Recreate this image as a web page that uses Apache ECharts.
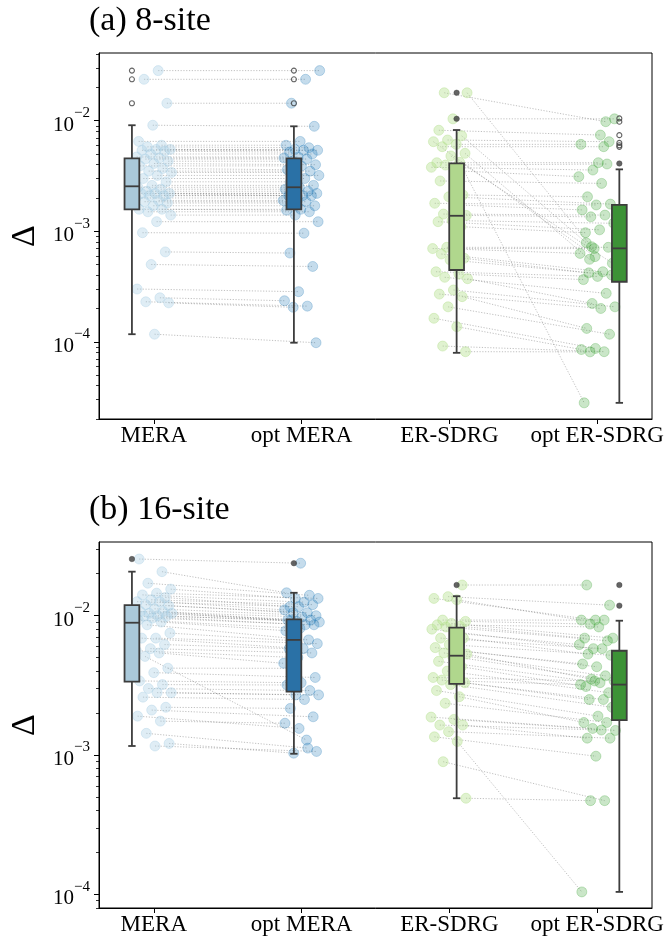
<!DOCTYPE html>
<html><head><meta charset="utf-8">
<script src="https://cdn.jsdelivr.net/npm/echarts@6.0.0/dist/echarts.min.js"></script>
<style>html,body{margin:0;padding:0;background:#fff}#c{width:668px;height:936px}</style>
</head><body><div id="c"></div>
<script>
// ---------- data ----------
const categories = ['MERA', 'opt MERA', 'ER-SDRG', 'opt ER-SDRG'];
const panelTitles = ['(a) 8-site', '(b) 16-site'];
const majorTicks = [1e-4, 1e-3, 1e-2];

// Panel (a) 8-site: paired values (index i of MERA pairs with index i of opt MERA)
const meraA = [0.0284, 0.0237, 0.0144, 0.0091, 0.0065, 0.0060, 0.0058, 0.0055, 0.0055, 0.0054, 0.0053, 0.0050, 0.0047, 0.0046, 0.0045, 0.0043, 0.0041, 0.0039, 0.0037, 0.0035, 0.0034, 0.0032, 0.0030, 0.0028, 0.0026, 0.0025, 0.0024, 0.0023, 0.0022, 0.0022, 0.0022, 0.0021, 0.0021, 0.0020, 0.0019, 0.00185, 0.0018, 0.0017, 0.00158, 0.00158, 0.0015, 0.0014, 0.00122, 0.00097, 0.00065, 0.0005, 0.0003, 0.00025, 0.00023, 0.000225, 0.000117];
const optMeraA = [0.0284, 0.0237, 0.0144, 0.0089, 0.0065, 0.0060, 0.0057, 0.0055, 0.0054, 0.0054, 0.0052, 0.0050, 0.0047, 0.0046, 0.0045, 0.0043, 0.0040, 0.0039, 0.0036, 0.0035, 0.0034, 0.0032, 0.0030, 0.0028, 0.0026, 0.0025, 0.0024, 0.0023, 0.0022, 0.0022, 0.0021, 0.0021, 0.0021, 0.0020, 0.0019, 0.00185, 0.0018, 0.0017, 0.00158, 0.00155, 0.0015, 0.0014, 0.00122, 0.00096, 0.000635, 0.00048, 0.000284, 0.000235, 0.00021, 0.000205, 0.000098];
const erA = [0.0179, 0.0179, 0.0104, 0.0082, 0.0073, 0.00669, 0.00646, 0.00611, 0.00582, 0.00507, 0.0048, 0.00417, 0.0042, 0.00397, 0.00379, 0.00353, 0.00285, 0.00213, 0.00205, 0.00179, 0.00173, 0.00143, 0.00139, 0.00125, 0.00122, 0.0011, 0.000715, 0.000697, 0.00069, 0.000622, 0.000569, 0.00055, 0.00043, 0.00041, 0.000383, 0.000372, 0.000294, 0.00027, 0.000256, 0.000207, 0.000163, 0.000137, 0.0000914, 0.0000813];
const optErA = [0.0098, 0.000724, 0.0104, 0.00742, 0.000787, 0.00646, 0.000589, 0.00611, 0.00582, 0.000557, 0.000513, 0.00417, 0.000028, 0.00406, 0.00358, 0.00312, 0.00271, 0.00205, 0.00176, 0.00173, 0.00156, 0.0014, 0.00135, 0.00118, 0.00103, 0.00097, 0.000715, 0.000697, 0.00063, 0.00043, 0.00042, 0.000402, 0.00039, 0.000365, 0.000274, 0.000222, 0.000207, 0.0002, 0.000132, 0.000117, 0.000087, 0.000085, 0.0000813, 0.000081];

// Panel (b) 16-site
const meraB = [0.0255, 0.0207, 0.0171, 0.0155, 0.0145, 0.0141, 0.0135, 0.0130, 0.0126, 0.0126, 0.0120, 0.0118, 0.0112, 0.0107, 0.0107, 0.0104, 0.0104, 0.0100, 0.0099, 0.0099, 0.0096, 0.0093, 0.0090, 0.0086, 0.0075, 0.0069, 0.0069, 0.0062, 0.0058, 0.0056, 0.0054, 0.0051, 0.0042, 0.0039, 0.0034, 0.0032, 0.0030, 0.0028, 0.0028, 0.0026, 0.0022, 0.0021, 0.0019, 0.00175, 0.00143, 0.00121, 0.00116];
const optMeraB = [0.0238, 0.0146, 0.0140, 0.0133, 0.0133, 0.0125, 0.0116, 0.0120, 0.0116, 0.0110, 0.0105, 0.0105, 0.0100, 0.0098, 0.0093, 0.0093, 0.0091, 0.0090, 0.0086, 0.0093, 0.0086, 0.0081, 0.0078, 0.0067, 0.0066, 0.0063, 0.0058, 0.0058, 0.0054, 0.0050, 0.00455, 0.00128, 0.00419, 0.0036, 0.0033, 0.00318, 0.0029, 0.0027, 0.0027, 0.0025, 0.00216, 0.00188, 0.00155, 0.00169, 0.00112, 0.00103, 0.00106];
const erB = [0.0166, 0.0137, 0.0133, 0.0130, 0.0093, 0.0091, 0.0088, 0.0086, 0.0084, 0.0083, 0.0080, 0.0075, 0.0069, 0.0069, 0.0062, 0.0059, 0.0056, 0.0054, 0.0053, 0.0051, 0.0047, 0.0043, 0.0040, 0.0036, 0.0034, 0.00345, 0.0033, 0.0032, 0.0029, 0.00262, 0.00235, 0.00187, 0.0018, 0.00164, 0.00164, 0.00147, 0.00135, 0.00125, 0.000895, 0.000489];
const optErB = [0.0166, 0.0119, 0.0093, 0.0093, 0.0093, 0.0087, 0.0069, 0.0083, 0.0069, 0.0066, 0.0058, 0.0062, 0.0058, 0.0053, 0.0052, 0.0043, 0.0045, 0.0037, 0.0035, 0.0034, 0.0033, 0.0031, 0.0028, 0.0034, 0.0032, 0.0025, 0.0025, 0.0022, 0.0019, 0.00171, 0.00171, 0.00155, 0.0015, 0.00151, 0.00132, 0.00132, 0.00098, 0.000104, 0.00047, 0.00047];

// Box statistics: [lower whisker, Q1, median, Q3, upper whisker]
const boxStatsA = [
  [0.000117, 0.00158, 0.00255, 0.00457, 0.0091],
  [0.000098, 0.00158, 0.0025, 0.00457, 0.0089],
  [0.0000794, 0.000446, 0.00138, 0.00411, 0.00824],
  [0.000028, 0.000349, 0.0007, 0.00173, 0.00363]
];
const boxStatsB = [
  [0.00116, 0.00336, 0.0089, 0.0119, 0.0207],
  [0.00102, 0.00285, 0.0067, 0.0094, 0.0146],
  [0.000489, 0.00324, 0.00516, 0.0082, 0.0138],
  [0.000104, 0.00178, 0.0032, 0.0056, 0.0092]
];
// Fliers per box (open markers) and overlapping fliers (appear filled)
const fliersA = [[0.0284, 0.0237, 0.0144], [0.0284, 0.0237, 0.0144], [], [0.0105, 0.0098, 0.0074, 0.0063, 0.0060, 0.0058]];
const solidFliersA = [[], [], [0.0179, 0.0104], [0.0041]];
const fliersB = [[], [], [], []];
const solidFliersB = [[0.0255], [0.0238], [0.0166], [0.0166, 0.0118]];

// ---------- layout / style ----------
const FONT = 'Liberation Serif';
const boxPos = [-0.148, 0.948, 2.049, 3.150];
const boxWidth = 0.1;
const xMin = -0.3708, xMax = 3.371;
const yRange = [[2.0e-5, 0.0410], [7.97e-5, 0.0338]];
const pointColors = ['rgba(166,206,227,0.45)', 'rgba(31,120,180,0.32)', 'rgba(178,223,138,0.5)', 'rgba(51,160,44,0.32)'];
const boxColors = ['#aac9da', '#2a71a6', '#b0d78d', '#3c9236'];
const edge = '#3d3d3d';
const grids = [
  {left: 97, top: 53, width: 555, height: 366},
  {left: 97, top: 542, width: 555, height: 366}
];

function jit(i, k) {
  const t = ((i + 1) * 0.6180339887 + k * 0.3713) % 1;
  return (t - 0.5) * 0.25;
}
function minorTicks(lo, hi) {
  const out = [];
  for (let e = -6; e <= 0; e++) {
    for (let m = 2; m <= 9; m++) {
      const v = m * Math.pow(10, e);
      if (v >= lo && v <= hi) out.push(v);
    }
  }
  return out;
}

const panels = [
  {groups: [meraA, optMeraA, erA, optErA], box: boxStatsA, fl: fliersA, sfl: solidFliersA},
  {groups: [meraB, optMeraB, erB, optErB], box: boxStatsB, fl: fliersB, sfl: solidFliersB}
];

const option = {
  animation: false,
  backgroundColor: '#fff',
  title: panelTitles.map((t, p) => ({
    text: t, left: 89, top: p === 0 ? 4 : 493, padding: 0,
    textStyle: {fontFamily: FONT, fontSize: 34, fontWeight: 'normal', color: '#000'}
  })),
  grid: grids.map(g => Object.assign({show: true, borderColor: '#000', borderWidth: 1, backgroundColor: '#fff'}, g)),
  xAxis: [], yAxis: [], series: []
};

panels.forEach((P, p) => {
  option.xAxis.push({
    type: 'value', gridIndex: p, min: xMin, max: xMax, position: 'bottom',
    axisLine: {show: true, onZero: false, lineStyle: {color: '#000', width: 1}},
    axisTick: {show: true, customValues: [0, 1, 2, 3], length: 5, lineStyle: {color: '#000', width: 1}},
    axisLabel: {customValues: [0, 1, 2, 3], formatter: v => categories[Math.round(v)],
      fontFamily: FONT, fontSize: 23, color: '#000', margin: 5},
    splitLine: {show: false}
  });
  option.yAxis.push({
    type: 'log', gridIndex: p, min: yRange[p][0], max: yRange[p][1], position: 'left',
    name: 'Δ', nameLocation: 'middle', nameGap: 57, nameRotate: 90,
    nameTextStyle: {fontFamily: FONT, fontSize: 34, color: '#000'},
    axisLine: {show: true, onZero: false, lineStyle: {color: '#000', width: 1}},
    axisTick: {show: true, customValues: majorTicks, length: 5, lineStyle: {color: '#000', width: 1}},
    axisLabel: {customValues: majorTicks, margin: 9,
      formatter: v => '{b|10}{s|−' + Math.abs(Math.round(Math.log10(v))) + '}',
      rich: {
        b: {fontFamily: FONT, fontSize: 21, color: '#000', lineHeight: 30, verticalAlign: 'bottom'},
        s: {fontFamily: FONT, fontSize: 15, color: '#000', lineHeight: 15, verticalAlign: 'top'}
      }},
    splitLine: {show: false}
  });
  option.yAxis.push({
    type: 'log', gridIndex: p, min: yRange[p][0], max: yRange[p][1], position: 'left', offset: 0,
    axisLine: {show: false, onZero: false},
    axisTick: {show: true, customValues: minorTicks(yRange[p][0], yRange[p][1]), length: 3, lineStyle: {color: '#000', width: 0.8}},
    axisLabel: {show: false},
    splitLine: {show: false}
  });
  const yIdx = p * 2;

  // connecting dotted lines
  const lineData = [];
  [[0, 1], [2, 3]].forEach(([a, b]) => {
    const A = P.groups[a], B = P.groups[b];
    for (let i = 0; i < A.length; i++) {
      lineData.push([a + jit(i, a + p * 4), A[i], b + jit(i, b + p * 4), B[i]]);
    }
  });
  option.series.push({
    type: 'custom', xAxisIndex: p, yAxisIndex: yIdx, z: 1, silent: true,
    encode: {x: [0, 2], y: [1, 3]},
    data: lineData,
    renderItem: (params, api) => {
      const p1 = api.coord([api.value(0), api.value(1)]);
      const p2 = api.coord([api.value(2), api.value(3)]);
      return {type: 'line', shape: {x1: p1[0], y1: p1[1], x2: p2[0], y2: p2[1]},
        style: {stroke: 'rgba(110,110,110,0.55)', lineWidth: 0.8, lineDash: [1.2, 1.6]}};
    }
  });

  // jittered points
  P.groups.forEach((G, g) => {
    option.series.push({
      type: 'scatter', xAxisIndex: p, yAxisIndex: yIdx, z: 2, silent: true,
      symbol: 'circle', symbolSize: 10,
      itemStyle: {color: pointColors[g], borderColor: pointColors[g], borderWidth: 1},
      data: G.map((v, i) => [g + jit(i, g + p * 4), v])
    });
  });

  // boxes
  option.series.push({
    type: 'custom', xAxisIndex: p, yAxisIndex: yIdx, z: 3, silent: true,
    encode: {x: 0, y: [1, 2, 3, 4, 5]},
    data: P.box.map((s, g) => [boxPos[g]].concat(s)),
    renderItem: (params, api) => {
      const x = api.value(0);
      const mid = api.value(3);
      const xl = api.coord([x - boxWidth / 2, mid])[0];
      const xr = api.coord([x + boxWidth / 2, mid])[0];
      const xc = api.coord([x, mid])[0];
      const cw = (xr - xl) / 4;
      const y = [1, 2, 3, 4, 5].map(d => api.coord([x, api.value(d)])[1]);
      const ls = {stroke: edge, lineWidth: 1.8};
      return {type: 'group', children: [
        {type: 'line', shape: {x1: xc, y1: y[0], x2: xc, y2: y[1]}, style: ls},
        {type: 'line', shape: {x1: xc, y1: y[3], x2: xc, y2: y[4]}, style: ls},
        {type: 'line', shape: {x1: xc - cw, y1: y[0], x2: xc + cw, y2: y[0]}, style: ls},
        {type: 'line', shape: {x1: xc - cw, y1: y[4], x2: xc + cw, y2: y[4]}, style: ls},
        {type: 'rect', shape: {x: xl, y: y[3], width: xr - xl, height: y[1] - y[3]},
          style: {fill: boxColors[params.dataIndex], stroke: edge, lineWidth: 1.8}},
        {type: 'line', shape: {x1: xl, y1: y[2], x2: xr, y2: y[2]}, style: ls}
      ]};
    }
  });

  // fliers
  const fl = [], sfl = [];
  P.fl.forEach((arr, g) => arr.forEach(v => fl.push([boxPos[g], v])));
  P.sfl.forEach((arr, g) => arr.forEach(v => sfl.push([boxPos[g], v])));
  option.series.push({
    type: 'scatter', xAxisIndex: p, yAxisIndex: yIdx, z: 4, silent: true,
    symbol: 'circle', symbolSize: 5,
    itemStyle: {color: 'rgba(255,255,255,0)', borderColor: edge, borderWidth: 1.1},
    data: fl
  });
  option.series.push({
    type: 'scatter', xAxisIndex: p, yAxisIndex: yIdx, z: 4, silent: true,
    symbol: 'circle', symbolSize: 5.5,
    itemStyle: {color: edge, borderColor: edge, borderWidth: 0.5},
    data: sfl
  });
});

const chart = echarts.init(document.getElementById('c'), null, {renderer: 'canvas'});
chart.setOption(option);
</script>
</body></html>
